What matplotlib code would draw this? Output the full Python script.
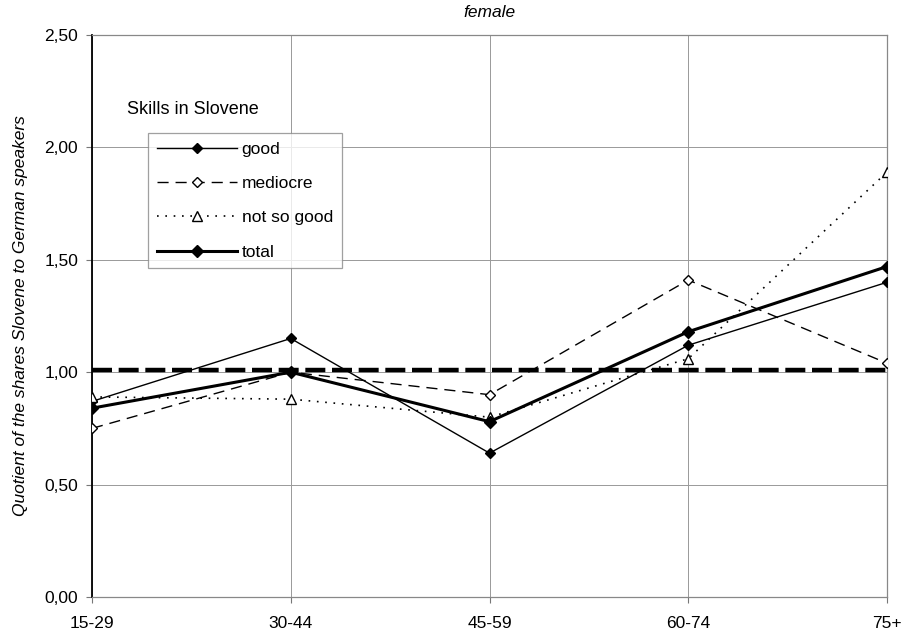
import numpy as np
import matplotlib.pyplot as plt

plt.rcParams["font.family"] = ["Liberation Sans", "DejaVu Sans"]

# ------------------------------------------------------------------
# Data
# ------------------------------------------------------------------
age_groups = ["15-29", "30-44", "45-59", "60-74", "75+"]
good = [0.87, 1.15, 0.64, 1.12, 1.40]
mediocre = [0.75, 1.00, 0.90, 1.41, 1.04]
not_so_good = [0.89, 0.88, 0.80, 1.06, 1.89]
total = [0.84, 1.00, 0.78, 1.18, 1.47]
parity = 1.01
yticks = [0.0, 0.5, 1.0, 1.5, 2.0, 2.5]

# ------------------------------------------------------------------
# Plot
# ------------------------------------------------------------------
fs = 12.5
fig = plt.figure(figsize=(9.07, 6.35), dpi=100)
ax = fig.add_axes([92 / 907, 1 - 597 / 635, 795 / 907, 562 / 635])
x = np.arange(len(age_groups))

ax.axhline(parity, color="black", lw=3.2, ls=(0, (4.5, 1.5)), zorder=2)

ax.plot(x, good, color="black", lw=1.0, marker="D", ms=5,
        mfc="black", mec="black", label="good", zorder=3)
ax.plot(x, mediocre, color="black", lw=1.0, ls=(0, (8, 5)), marker="D", ms=5,
        mfc="white", mec="black", label="mediocre", zorder=3)
ax.plot(x, not_so_good, color="black", lw=1.2, ls=(0, (1, 4)), marker="^", ms=7,
        mfc="white", mec="black", label="not so good", zorder=3)
ax.plot(x, total, color="black", lw=2.2, marker="D", ms=6,
        mfc="black", mec="black", label="total", zorder=4)

ax.set_xlim(0, len(age_groups) - 1)
ax.set_ylim(0, 2.5)
ax.set_xticks(x)
ax.set_xticklabels(age_groups, fontsize=fs)
ax.set_yticks(yticks)
ax.set_yticklabels([f"{v:.2f}".replace(".", ",") for v in yticks], fontsize=fs)
ax.tick_params(axis="x", length=4, pad=10, color="#777777")
ax.tick_params(axis="y", length=4, pad=6, color="#777777")

ax.grid(True, color="#999999", lw=0.7)
ax.set_axisbelow(True)
for side in ["top", "right", "bottom"]:
    ax.spines[side].set_color("#888888")
    ax.spines[side].set_linewidth(0.9)
ax.spines["left"].set_color("black")
ax.spines["left"].set_linewidth(1.3)

ax.set_title("female", fontsize=fs, style="italic", pad=13)
ax.set_ylabel("Quotient of the shares Slovene to German speakers",
              fontsize=fs, style="italic", labelpad=12)

fig.text(127 / 907, 1 - 110 / 635, "Skills in Slovene", fontsize=13,
         va="center", ha="left")
leg = ax.legend(loc="upper left", bbox_to_anchor=(56 / 795, 1 - 98 / 562),
                fontsize=fs, frameon=True, fancybox=False, edgecolor="#888888",
                handlelength=4.6, labelspacing=1.1, borderpad=0.5,
                handletextpad=0.3, borderaxespad=0)
leg.get_frame().set_linewidth(0.9)

fig.savefig("out.png", dpi=100)
